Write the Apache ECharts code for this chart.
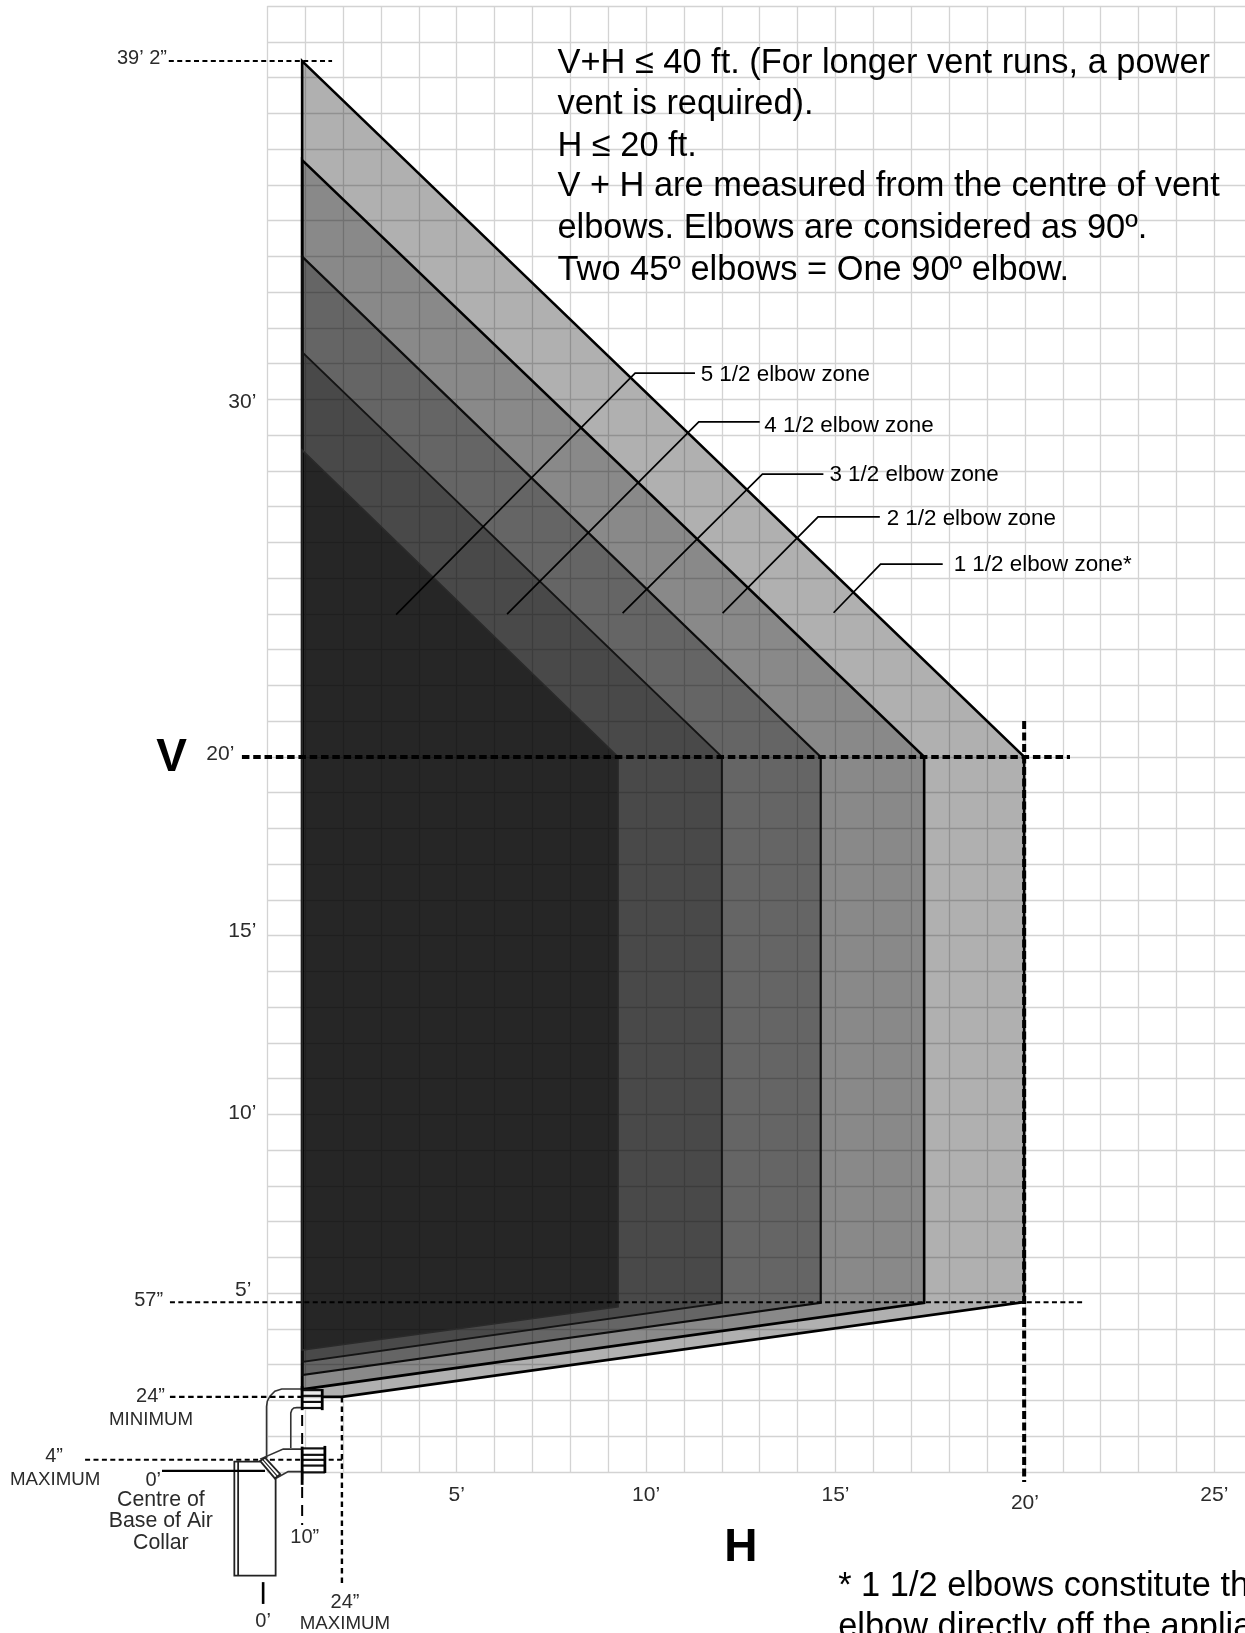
<!DOCTYPE html>
<html><head><meta charset="utf-8">
<style>html,body{margin:0;padding:0;background:#fff;overflow:hidden}#c{width:1245px;height:1633px}</style>
<script src="https://cdn.jsdelivr.net/npm/echarts@6/dist/echarts.min.js"></script>
</head><body><div id="c"></div>
<script>
// All coordinates are in feet: [H, V]
const xTickLabels = [5, 10, 15, 20, 25];
const yTickLabels = [5, 10, 15, 20, 30];

const zone1 = [[0.92,39.46],[19.98,20],[19.98,4.75],[1.97,2.10],[0.92,2.10]];
const zone2 = [[0.92,36.69],[17.34,20],[17.34,4.73],[0.92,2.31]];
const zone3 = [[0.92,33.99],[14.61,20],[14.61,4.73],[0.92,2.71]];
const zone4 = [[0.92,31.32],[12.0,20],[12.0,4.73],[0.92,3.08]];
const zone5 = [[0.92,28.58],[9.26,20],[9.26,4.62],[0.92,3.41]];

const leader5 = [[11.29,30.73],[9.71,30.73],[3.40,23.98]];
const leader4 = [[13.0,29.37],[11.39,29.37],[6.33,23.99]];
const leader3 = [[14.68,27.91],[13.07,27.91],[9.38,24.02]];
const leader2 = [[16.17,26.71],[14.54,26.71],[12.02,24.02]];
const leader1 = [[17.83,25.39],[16.19,25.39],[14.95,24.03]];

const dashTop = [[-2.60,39.46],[1.71,39.46]];
const dashV20 = [[-0.67,20],[21.19,20]];
const dashH20 = [[19.98,21.0],[19.98,-0.28]];
const dash57 = [[-2.57,4.75],[21.51,4.75]];
const dash24min = [[-2.57,2.10],[0.92,2.10]];
const dash4 = [[-4.81,0.34],[1.97,0.34]];
const dash10 = [[0.92,2.10],[0.92,-1.48]];
const dash24max = [[1.97,2.10],[1.97,-3.16]];
const zeroH = [[-2.78,0.03],[-0.06,0.03]];
const zeroV = [[-0.11,-3.08],[-0.11,-3.69]];

const ventBox = [[-0.19,0.29],[-0.87,0.29],[-0.87,-2.90],[0.22,-2.90],[0.22,-0.18]];
const ventBoxInner = [[-0.77,0.29],[-0.77,-2.90]];
const ventOuter = [[-0.02,0.39],[-0.02,1.83],[0.0,1.98],[0.07,2.12],[0.2,2.26],[0.38,2.32],[0.92,2.32]];
const ventInner = [[0.62,0.67],[0.62,1.65],[0.65,1.74],[0.7,1.79],[0.78,1.80],[0.92,1.80]];
const elbowTop = [[-0.19,0.36],[0.42,0.64],[0.92,0.64]];
const elbowBottom = [[0.22,-0.18],[0.55,0.01],[0.92,0.01]];
const collar = [[-0.19,0.31],[-0.06,0.40],[0.34,-0.06],[0.20,-0.18]];
const collarMid = [[-0.13,0.36],[0.27,-0.12]];
const upperCapBody = [[0.92,2.29],[1.45,2.29],[1.45,1.73],[0.92,1.73]];
const upperCapSideL = [[0.92,2.40],[0.92,1.73]];
const upperCapSideR = [[1.45,2.32],[1.45,1.73]];
const upperSlats = [2.29,2.13,1.96,1.79];
const lowerCapBody = [[0.92,0.66],[1.52,0.66],[1.52,-0.01],[0.92,-0.01]];
const lowerCapSideL = [[0.92,0.71],[0.92,-0.36]];
const lowerCapSideR = [[1.52,0.73],[1.52,-0.03]];
const lowerSlats = [0.66,0.48,0.34,0.18,-0.01];

const noteLines = [
  [7.66,39.38,"V+H \u2264 40 ft. (For longer vent runs, a power"],
  [7.66,38.24,"vent is required)."],
  [7.66,37.08,"H \u2264 20 ft."],
  [7.66,35.94,"V + H are measured from the centre of vent"],
  [7.66,34.78,"elbows. Elbows are considered as 90\u00ba."],
  [7.66,33.61,"Two 45\u00ba elbows = One 90\u00ba elbow."],
  [15.07,-3.19,"* 1 1/2 elbows constitute the"],
  [15.07,-4.34,"elbow directly off the appliance"]
];
const zoneLabels = [
  [11.44,30.69,"5 1/2 elbow zone"],
  [13.12,29.27,"4 1/2 elbow zone"],
  [14.84,27.88,"3 1/2 elbow zone"],
  [16.35,26.65,"2 1/2 elbow zone"],
  [18.12,25.36,"1 1/2 elbow zone*"]
];
const dimLabels = [
  [-2.65,39.54,"39\u2019 2\u201D","right"],
  [-2.75,4.81,"57\u201D","right"],
  [-2.70,2.10,"24\u201D","right"],
  [-5.63,0.44,"4\u201D","center"],
  [-3.01,-0.25,"0\u2019","center"],
  [0.99,-1.83,"10\u201D","center"],
  [-0.11,-4.18,"0\u2019","center"],
  [2.05,-3.64,"24\u201D","center"]
];
const collarLabels = [
  [-2.81,-0.78,"Centre of","center"],
  [-2.81,-1.38,"Base of Air","center"],
  [-2.81,-1.99,"Collar","center"]
];
const capLabels = [
  [-3.07,1.46,"MINIMUM","center"],
  [-5.60,-0.21,"MAXIMUM","center"],
  [2.05,-4.24,"MAXIMUM","center"]
];
const axisLetters = [
  [-2.93,19.97,"V"],
  [12.06,-2.13,"H"]
];

const BODY = '"Liberation Sans", Arial, sans-serif';

function pathSeries(pts, closed, style, z) {
  return {
    type: 'custom', silent: true, z: z, coordinateSystem: 'cartesian2d',
    data: pts, encode: {x: 0, y: 1},
    renderItem(params, api) {
      if (params.dataIndex !== 0) return null;
      return {
        type: closed ? 'polygon' : 'polyline',
        shape: {points: pts.map(p => api.coord(p))},
        style: Object.assign({fill: closed ? undefined : null}, style)
      };
    }
  };
}
function textSeries(rows, font, fill, z) {
  return {
    type: 'custom', silent: true, z: z, coordinateSystem: 'cartesian2d',
    data: rows.map(r => [r[0], r[1]]), encode: {x: 0, y: 1},
    renderItem(params, api) {
      const r = rows[params.dataIndex];
      const c = api.coord([r[0], r[1]]);
      return {type: 'text', style: {text: r[2], x: c[0], y: c[1], font: font, fill: fill,
        align: r[3] || 'left', verticalAlign: 'middle'}};
    }
  };
}
const zoneFill = ['rgba(0,0,0,0.31)','rgba(0,0,0,0.22)','rgba(0,0,0,0.26)','rgba(0,0,0,0.275)','rgba(0,0,0,0.47)'];
const series = [
  pathSeries(zone1, true, {fill: zoneFill[0], stroke: '#000', lineWidth: 2.6}, 2),
  pathSeries(zone2, true, {fill: zoneFill[1], stroke: '#000', lineWidth: 2.6}, 3),
  pathSeries(zone3, true, {fill: zoneFill[2], stroke: '#0c0c0c', lineWidth: 2.2}, 4),
  pathSeries(zone4, true, {fill: zoneFill[3], stroke: '#141414', lineWidth: 2}, 5),
  pathSeries(zone5, true, {fill: zoneFill[4], stroke: '#2a2a2a', lineWidth: 1.6}, 6),
];
[leader5,leader4,leader3,leader2,leader1].forEach(l =>
  series.push(pathSeries(l, false, {stroke: '#000', lineWidth: 1.7}, 7)));
const thick = {stroke: '#000', lineWidth: 4, lineDash: [7.5, 3.8]};
const thin = {stroke: '#000', lineWidth: 2, lineDash: [5, 3.4]};
series.push(pathSeries(dashV20, false, thick, 8));
series.push(pathSeries(dashH20, false, Object.assign({}, thick, {lineDash: [8, 3.5]}), 8));
series.push(pathSeries(dashTop, false, thin, 8));
series.push(pathSeries(dash57, false, thin, 8));
series.push(pathSeries(dash4, false, thin, 8));
series.push(pathSeries(dash24max, false, {stroke:'#000', lineWidth:2.4, lineDash:[5.5,4]}, 8));
// vent
const pipe = {stroke: '#333', lineWidth: 1.6};
series.push(pathSeries(ventBox, false, {stroke:'#222', lineWidth:1.8}, 9));
series.push(pathSeries(ventBoxInner, false, {stroke:'#222', lineWidth:1.8}, 9));
series.push(pathSeries(ventOuter, false, pipe, 9));
series.push(pathSeries(ventInner, false, pipe, 9));
series.push(pathSeries(elbowTop, false, pipe, 9));
series.push(pathSeries(elbowBottom, false, pipe, 9));
series.push(pathSeries(zeroH, false, {stroke:'#000', lineWidth:2.2}, 9));
series.push(pathSeries(zeroV, false, {stroke:'#000', lineWidth:2.6}, 9));
series.push(pathSeries(collar, true, {fill:'#fff', stroke:'#222', lineWidth:1.8}, 10));
series.push(pathSeries(collarMid, false, {stroke:'#222', lineWidth:1.2}, 10));
series.push(pathSeries(upperCapBody, true, {fill:'rgba(255,255,255,0.75)'}, 10));
series.push(pathSeries(lowerCapBody, true, {fill:'#fff'}, 10));
const capSide = {stroke:'#000', lineWidth:2.8};
const slat = {stroke:'#111', lineWidth:2.2};
upperSlats.forEach(v => series.push(pathSeries([[0.92,v],[1.45,v]], false, slat, 11)));
lowerSlats.forEach(v => series.push(pathSeries([[0.92,v],[1.52,v]], false, slat, 11)));
[upperCapSideL,upperCapSideR,lowerCapSideL,lowerCapSideR].forEach(s =>
  series.push(pathSeries(s, false, capSide, 11)));
series.push(pathSeries(dash24min, false, {stroke:'#000', lineWidth:2.4, lineDash:[5.5,3.6]}, 12));
series.push(pathSeries(dash10, false, {stroke:'#000', lineWidth:2, lineDash:[11,7]}, 12));
// text
series.push(textSeries(noteLines, '34.4px ' + BODY, '#000', 13));
series.push(textSeries(zoneLabels, '22.4px ' + BODY, '#000', 13));
series.push(textSeries(dimLabels, '20px ' + BODY, '#2b2b2b', 13));
series.push(textSeries(collarLabels, '21.3px ' + BODY, '#2b2b2b', 13));
series.push(textSeries(capLabels, '18.7px ' + BODY, '#2b2b2b', 13));
series.push(textSeries(axisLetters, 'bold 46px ' + BODY, '#000', 13));

const tickFont = {fontFamily: BODY, fontSize: 21, color: '#2b2b2b'};
const chart = echarts.init(document.getElementById('c'), null, {renderer: 'canvas', width: 1245, height: 1633});
chart.setOption({
  animation: false,
  backgroundColor: '#fff',
  grid: {left: 267.3, top: 6, width: 977.7, height: 1466, containLabel: false},
  xAxis: {
    type: 'value', min: 0, max: 25.81, interval: 1,
    axisLine: {show: false}, axisTick: {show: false},
    splitLine: {show: true, showMaxLine: false, lineStyle: {color: '#d3d3d3', width: 1.3}},
    axisLabel: Object.assign({}, tickFont, {
      margin: 13, hideOverlap: false, showMinLabel: false, showMaxLabel: false,
      formatter: v => xTickLabels.includes(v) ? (v === 20 ? "{low|20\u2019}" : v + "\u2019") : '',
      rich: {low: Object.assign({}, tickFont, {padding: [8,0,0,0]})}
    })
  },
  yAxis: {
    type: 'value', min: 0, max: 41, interval: 1,
    axisLine: {show: false}, axisTick: {show: false},
    splitLine: {show: true, lineStyle: {color: '#d3d3d3', width: 1.3}},
    axisLabel: Object.assign({}, tickFont, {
      margin: 11, hideOverlap: false, showMinLabel: false, showMaxLabel: false,
      formatter: v => yTickLabels.includes(v) ? "{t" + v + "|" + v + "\u2019}" : '',
      rich: {
        t5: Object.assign({}, tickFont, {padding: [0,5,6,0]}),
        t10: Object.assign({}, tickFont, {padding: [0,0,2,0]}),
        t15: Object.assign({}, tickFont, {padding: [0,0,9,0]}),
        t20: Object.assign({}, tickFont, {padding: [0,22,6,0]}),
        t30: Object.assign({}, tickFont, {padding: [6,0,0,0]})
      }
    })
  },
  series: series
});
</script></body></html>
